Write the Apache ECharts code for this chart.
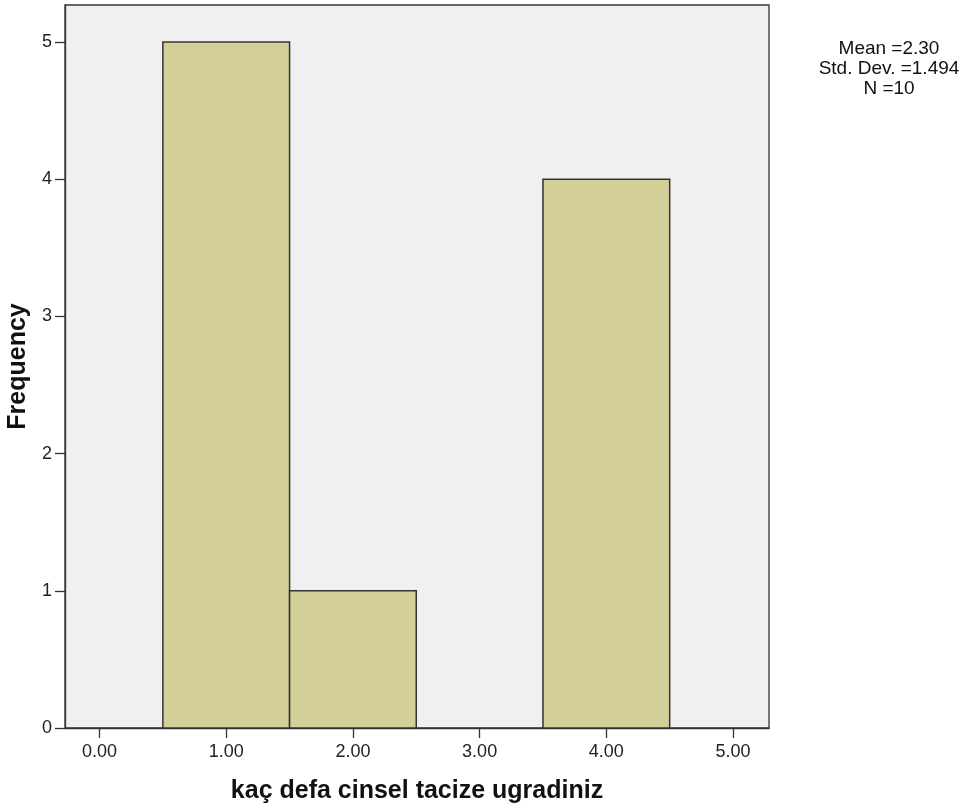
<!DOCTYPE html>
<html>
<head>
<meta charset="utf-8">
<script src="https://cdn.jsdelivr.net/npm/echarts@6/dist/echarts.min.js"></script>
<style>html,body{margin:0;padding:0;background:#fff}#c{width:963px;height:811px}</style>
</head>
<body>
<div id="c"></div>
<script>
// Data
const binCenters = [0, 1, 2, 3, 4, 5];
const frequencies = [0, 5, 1, 0, 4, 0];
const xTicks = [0, 1, 2, 3, 4, 5];
const yTicks = [0, 1, 2, 3, 4, 5];
const statsLines = ['Mean =2.30', 'Std. Dev. =1.494', 'N =10'];
const xTitle = 'kaç defa cinsel tacize ugradiniz';
const yTitle = 'Frequency';
const binWidth = 1;

const chart = echarts.init(document.getElementById('c'), null, {renderer: 'canvas'});
const font = 'Liberation Sans, Arial, sans-serif';

const option = {
  animation: false,
  backgroundColor: '#ffffff',
  grid: {
    left: 65, right: 194, top: 5, bottom: 83,
    outerBoundsMode: 'none', containLabel: false,
    show: true, backgroundColor: '#f0f0f0', borderColor: '#333', borderWidth: 1.3
  },
  xAxis: {
    type: 'value', min: -0.2725, max: 5.284,
    axisLine: {show: true, onZero: false, lineStyle: {color: '#333', width: 1.3}},
    axisTick: {show: true, length: 10, inside: false, customValues: xTicks, lineStyle: {color: '#333', width: 1.3}},
    axisLabel: {customValues: xTicks, formatter: v => v.toFixed(2), color: '#222', fontFamily: font, fontSize: 18, margin: 15},
    splitLine: {show: false},
    name: xTitle, nameLocation: 'middle', nameGap: 51,
    nameTextStyle: {fontFamily: font, fontSize: 25, fontWeight: 'bold', color: '#111'}
  },
  yAxis: {
    type: 'value', min: 0, max: 5.27,
    axisLine: {show: true, onZero: false, lineStyle: {color: '#333', width: 1.3}},
    axisTick: {show: true, length: 10, customValues: yTicks, lineStyle: {color: '#333', width: 1.3}},
    axisLabel: {customValues: yTicks, color: '#222', fontFamily: font, fontSize: 18, margin: 13},
    splitLine: {show: false},
    name: yTitle, nameLocation: 'middle', nameGap: 32, nameRotate: 90,
    nameTextStyle: {fontFamily: font, fontSize: 25, fontWeight: 'bold', color: '#111'}
  },
  graphic: statsLines.map((t, i) => ({
    type: 'text', x: 889, y: 49 + i * 20,
    style: {
      text: t, align: 'center', verticalAlign: 'middle',
      font: '19px ' + font, fill: '#111'
    }
  })),
  series: [{
    type: 'custom',
    data: binCenters.map((c, i) => [c, frequencies[i]]),
    renderItem: function (params, api) {
      const c = api.value(0), f = api.value(1);
      if (!f) return null;
      const p0 = api.coord([c - binWidth / 2, f]);
      const p1 = api.coord([c + binWidth / 2, 0]);
      return {
        type: 'rect',
        shape: {x: p0[0], y: p0[1], width: p1[0] - p0[0], height: p1[1] - p0[1]},
        style: {fill: '#d3cf98', stroke: '#333', lineWidth: 1.5}
      };
    }
  }]
};
chart.setOption(option);
</script>
</body>
</html>
